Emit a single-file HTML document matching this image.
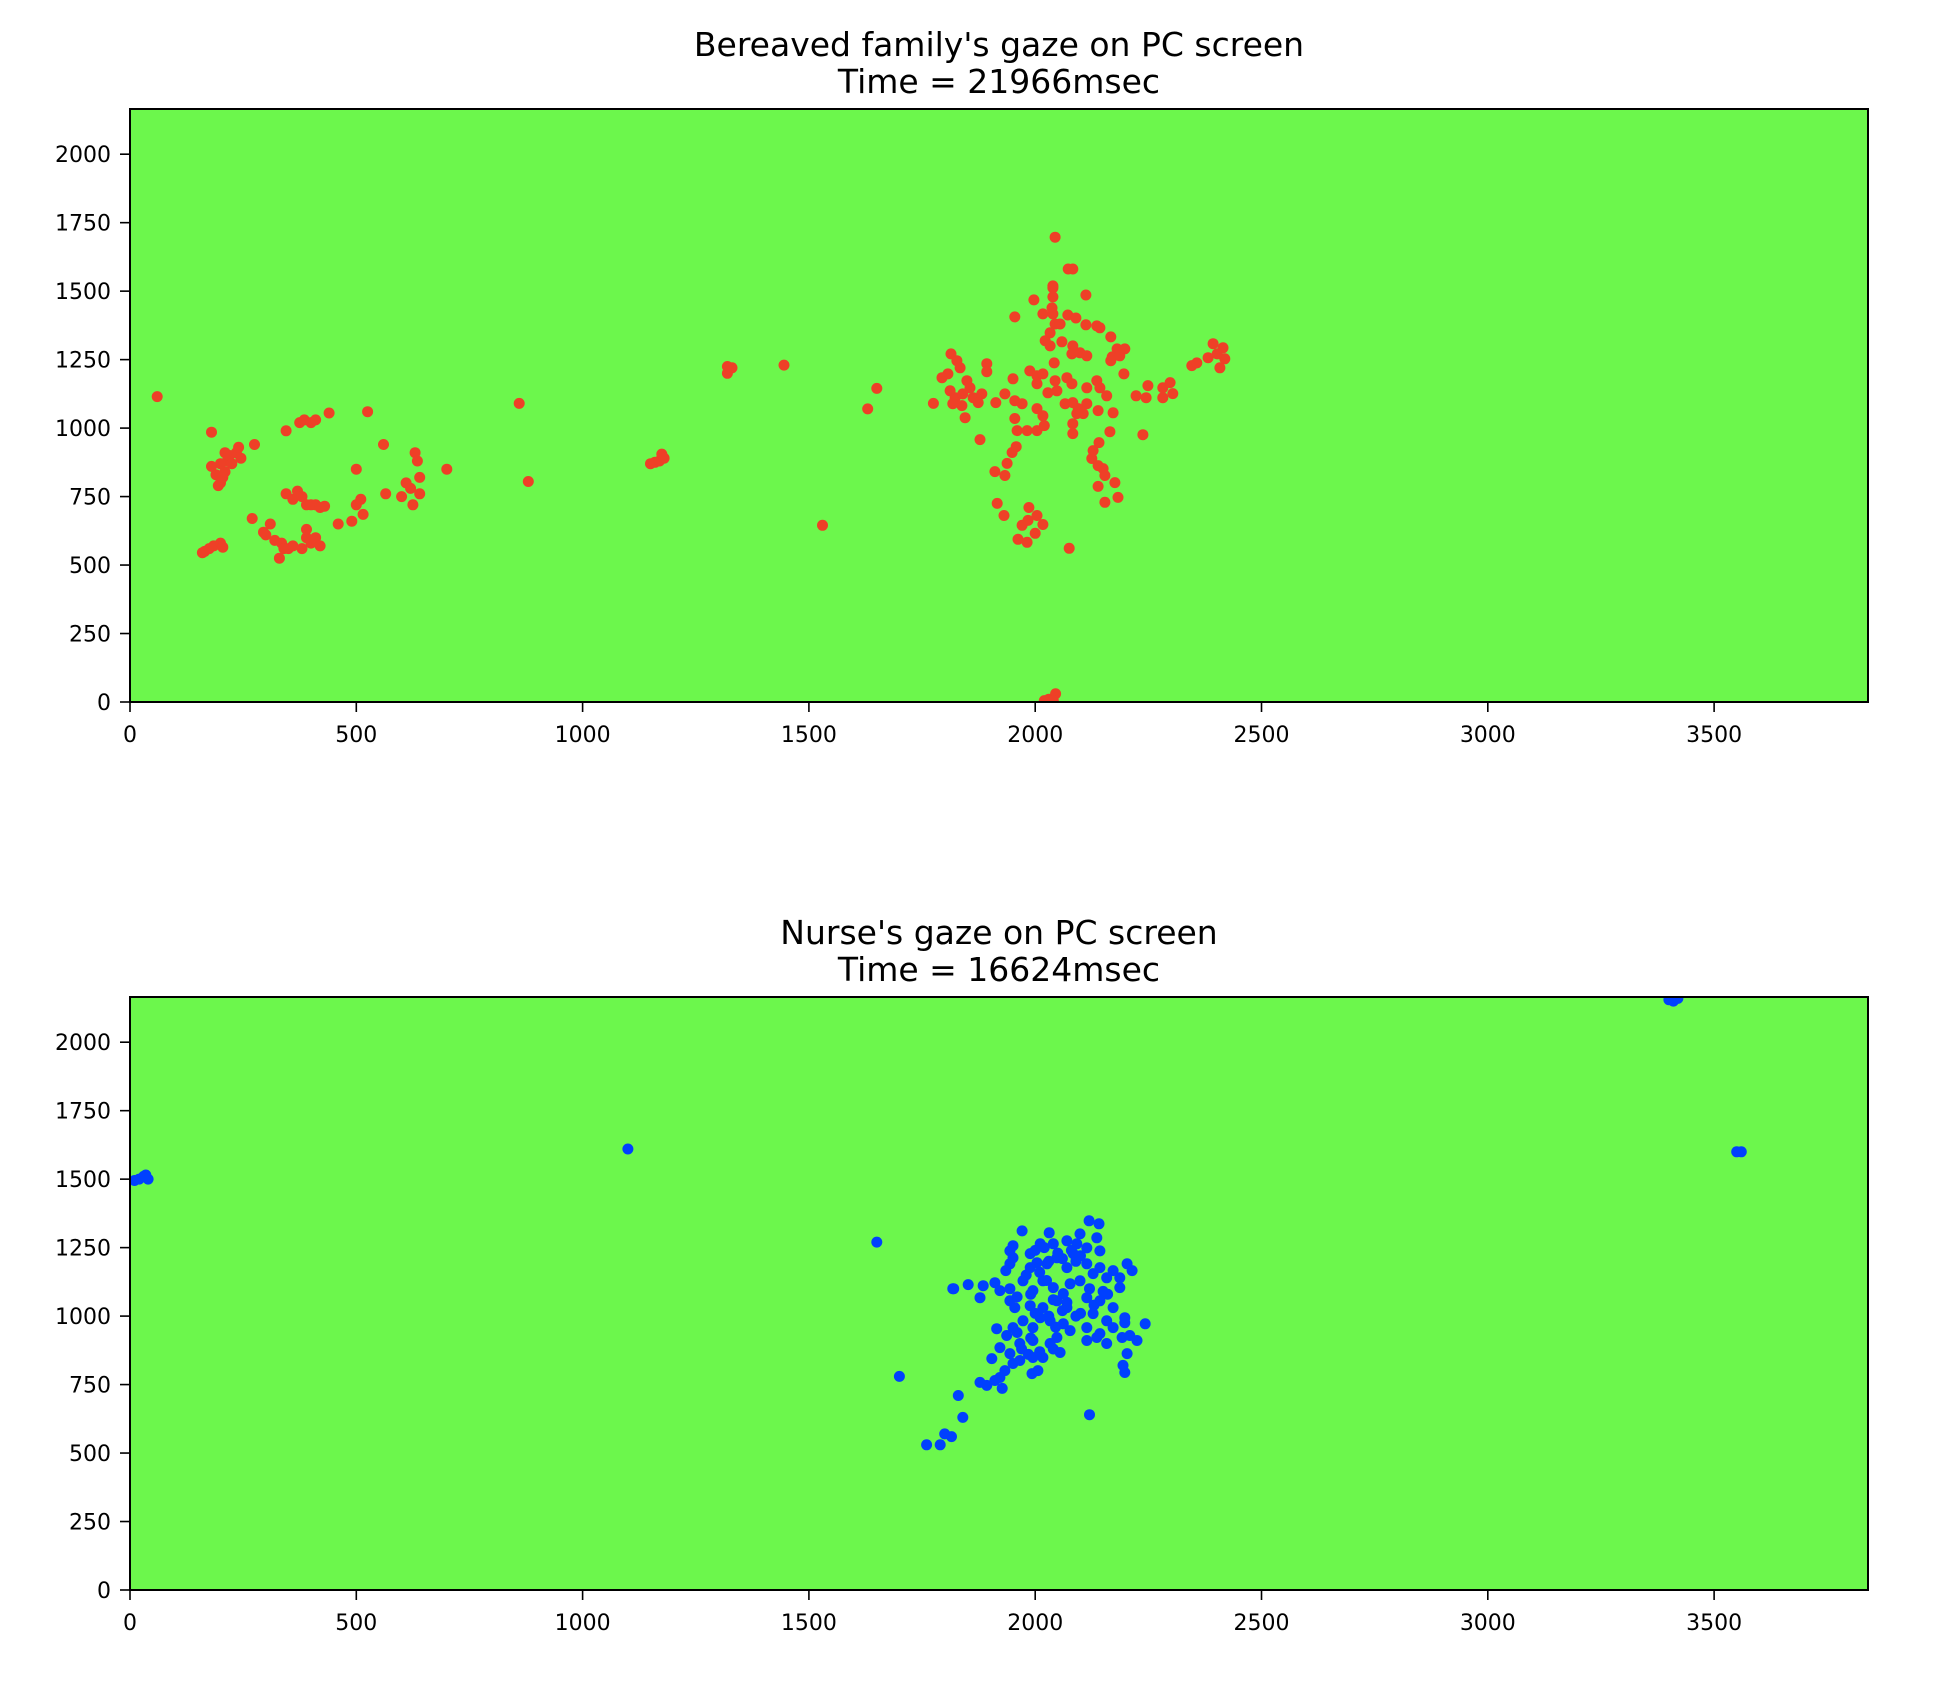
<!DOCTYPE html>
<html><head><meta charset="utf-8"><style>
html,body{margin:0;padding:0;background:#fff;}
svg{display:block;font-family:"DejaVu Sans","Liberation Sans",sans-serif;}
</style></head><body>
<svg id="fig" width="1948" height="1688" viewBox="0 0 1948 1688" xmlns="http://www.w3.org/2000/svg">
<rect width="1948" height="1688" fill="#fff"/>
</svg>
<script>
const xTicks=[0,500,1000,1500,2000,2500,3000,3500];
const yTicks=[0,250,500,750,1000,1250,1500,1750,2000];
const titles1=["Bereaved family's gaze on PC screen","Time = 21966msec"];
const titles2=["Nurse's gaze on PC screen","Time = 16624msec"];
const familyX=[60,160,165,175,185,200,205,180,180,190,195,200,205,210,215,220,225,235,240,245,210,200,275,270,295,300,310,320,335,340,330,350,360,380,390,390,400,410,420,345,360,370,380,390,400,410,420,430,345,375,385,400,410,440,460,490,500,510,515,500,525,560,565,600,610,620,625,630,635,640,640,700,860,880,1150,1160,1170,1175,1180,1320,1330,1320,1445,1530,1630,1650,1775,
2044,2083,2073,2039,2039,2039,1997,2112,2037,2017,2039,1955,2072,2090,2112,2136,2143,2044,2033,2022,2033,2059,2055,2167,2083,2081,2099,2114,2181,2198,2170,2167,2187,2196,2042,
1814,1827,1834,1807,1794,1849,1856,1812,1823,1840,1863,1882,1874,1818,1845,1838,1893,1893,1951,1933,1913,1878,
1988,2004,2017,2004,2028,2044,2070,2081,2048,1955,1971,2004,2017,1955,1960,1982,2004,2020,
2066,2083,2114,2092,2083,2083,2106,2114,2136,2143,2158,2139,2172,2095,2165,2238,
2223,2249,2245,2282,2282,2298,2304,2346,2357,2382,2393,2415,2408,2419,2402,
1958,1949,1938,1911,1933,2141,2128,2125,2139,2150,2154,2139,2176,2183,2154,1916,1931,
1986,2004,2017,1971,1984,2000,1982,1962,2075,2020,2030,2045,2040];
const familyY=[1115,545,550,560,570,580,565,985,860,830,790,800,820,840,880,900,870,910,930,890,910,870,940,670,620,610,650,590,580,560,525,560,570,560,600,630,580,600,570,760,740,770,750,720,720,720,710,715,990,1020,1030,1020,1030,1055,650,660,720,740,685,850,1060,940,760,750,800,780,720,910,880,820,760,850,1090,805,870,875,880,905,890,1200,1220,1225,1230,645,1070,1145,1090,
1697,1581,1581,1519,1512,1479,1468,1486,1439,1417,1417,1406,1413,1402,1377,1373,1366,1380,1348,1319,1300,1315,1380,1333,1300,1271,1275,1264,1289,1289,1260,1246,1264,1198,1238,
1271,1246,1220,1198,1184,1173,1147,1136,1111,1125,1111,1125,1093,1089,1038,1082,1235,1206,1180,1125,1093,958,
1209,1191,1198,1162,1129,1173,1184,1162,1136,1100,1089,1071,1045,1035,991,991,991,1009,
1089,1093,1089,1053,1016,980,1053,1147,1173,1147,1118,1064,1056,1071,987,976,
1118,1155,1111,1147,1111,1166,1126,1228,1238,1257,1308,1293,1220,1253,1271,
932,911,871,841,827,947,918,889,863,852,827,787,801,747,729,725,681,
710,681,648,645,663,616,583,594,561,5,10,30,5];
const nurseX=[10,20,30,35,40,1100,1650,1700,1760,1790,1800,1815,1820,1830,1840,2120,3400,3420,3410,3550,3560,
1971,2031,2119,2141,2099,1951,1944,1951,1944,1935,
1989,2011,2040,2070,2092,2114,2136,2143,2048,2084,2026,2004,1989,2070,2114,2143,2172,2203,2214,2187,2158,2187,2128,2099,
1818,1852,1885,1878,1911,1922,1944,1944,1955,1973,1995,2017,2040,2062,2077,2048,2017,1989,2070,
2114,2143,2172,2128,2158,2114,2143,2172,2198,2198,2243,2192,2209,2225,2158,2114,2136,2203,2194,2198,
1915,1937,1922,1951,1973,1995,2011,2033,2062,2077,2048,2033,2055,1995,1966,1944,1966,1995,2017,1993,2006,1951,1904,1933,1922,1878,1893,1911,1927,
2000,2020,2050,2080,2100,2030,2060,2090,1980,2010,1960,1990,2040,2070,2120,2150,2000,2030,2060,2090,1970,2010,2040,1960,1990,2025,2100,2130,2160,1985,2045];
const nurseY=[1495,1500,1510,1515,1500,1610,1270,780,530,530,570,560,1100,710,630,640,2155,2160,2150,1600,1600,
1311,1304,1348,1337,1300,1257,1238,1213,1191,1166,
1228,1264,1264,1275,1264,1249,1286,1238,1213,1228,1191,1195,1177,1177,1191,1177,1166,1191,1166,1140,1140,1104,1155,1129,
1100,1115,1111,1067,1122,1093,1100,1056,1031,1129,1093,1129,1104,1082,1118,1056,1031,1038,1031,
1067,1056,1031,1009,983,958,936,958,994,976,972,922,929,911,900,911,922,863,820,794,
954,929,885,958,983,958,994,983,972,947,922,900,867,911,900,863,838,849,849,790,801,827,845,801,776,758,747,765,736,
1240,1250,1230,1240,1220,1200,1210,1200,1150,1160,1070,1080,1060,1050,1100,1090,1010,1000,1020,1000,880,870,880,940,920,1130,1010,1040,1080,860,960];

const NS="http://www.w3.org/2000/svg";
const svg=document.getElementById('fig');
const L=130,R=1868,XMAX=3840,YMAX=2165;
function mk(tag,attrs,parent){const e=document.createElementNS(NS,tag);for(const k in attrs)e.setAttribute(k,attrs[k]);(parent||svg).appendChild(e);return e;}
function panel(id,top,bottom,titles,xs,ys,color,titleY){
  const g=mk('g',{});
  
  
  const sx=v=>L+v/XMAX*(R-L);
  const sy=v=>bottom-v/YMAX*(bottom-top);
  const bg=mk('rect',{x:L,y:top,width:R-L,height:bottom-top,fill:'#6cf74c'},g);
  
  
  const cp=mk('clipPath',{id:id+'-clip'},g);
  mk('rect',{x:L,y:top,width:R-L,height:bottom-top},cp);
  const pts=mk('g',{'clip-path':'url(#'+id+'-clip)'},g);
  
  
  for(let i=0;i<xs.length;i++){
    const c=mk('circle',{cx:sx(xs[i]).toFixed(1),cy:sy(ys[i]).toFixed(1),r:5.5,fill:color},pts);
    
    
  }
  const fr=mk('rect',{x:L,y:top,width:R-L,height:bottom-top,fill:'none',stroke:'#000','stroke-width':2},g);
  
  
  xTicks.forEach(t=>{
    const x=sx(t);
    mk('line',{x1:x,y1:bottom,x2:x,y2:bottom+10,stroke:'#000','stroke-width':1.6},g);
    const tx=mk('text',{x:x,y:bottom+40,'font-size':22,'text-anchor':'middle',fill:'#000'},g);
    tx.textContent=t;
    
    
  });
  yTicks.forEach(t=>{
    const y=sy(t);
    mk('line',{x1:L-10,y1:y,x2:L,y2:y,stroke:'#000','stroke-width':1.6},g);
    const tx=mk('text',{x:L-19,y:y+8,'font-size':22,'text-anchor':'end',fill:'#000'},g);
    tx.textContent=t;
    
    
  });
  titles.forEach((s,i)=>{
    const tx=mk('text',{x:(L+R)/2,y:titleY+i*37,'font-size':33,'text-anchor':'middle',fill:'#000'},g);
    tx.textContent=s;
    
    
  });
}
panel('family',109,702,titles1,familyX,familyY,'#ee4027',56);
panel('nurse',997,1590,titles2,nurseX,nurseY,'#0040fe',944);
</script>
</body></html>
